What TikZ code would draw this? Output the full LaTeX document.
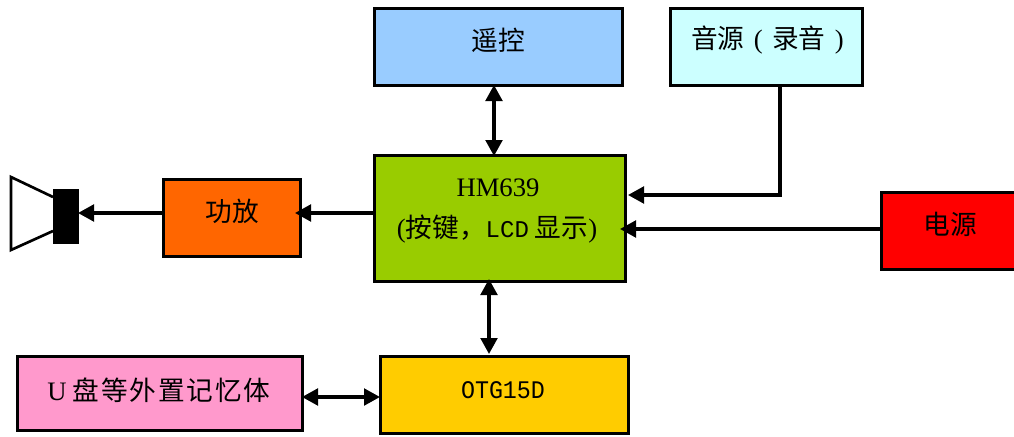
\documentclass[tikz,border=0pt]{standalone}
\usepackage{fontspec}
\setmainfont{Liberation Serif}
\newfontfamily\cjk{Noto Sans CJK SC}
\newfontfamily\cjkwide[LetterSpace=7]{Noto Sans CJK SC}
\newfontfamily\monof{Liberation Mono}
\usetikzlibrary{arrows.meta}
\definecolor{cRemote}{HTML}{99CCFF}
\definecolor{cSource}{HTML}{CCFFFF}
\definecolor{cMain}{HTML}{99CC00}
\definecolor{cAmp}{HTML}{FF6600}
\definecolor{cPower}{HTML}{FF0000}
\definecolor{cUsb}{HTML}{FF99CC}
\definecolor{cOtg}{HTML}{FFCC00}
\tikzset{
  x=0.75pt,y=-0.75pt,
  blockbox/.style={draw=black,line width=2.4pt,inner sep=0pt,anchor=north west},
  txt/.style={inner sep=0pt,font=\fontsize{20pt}{24pt}\selectfont\cjk,text=black},
  conn/.style={line width=2.4pt,draw=black},
  tip/.style={-{Triangle[length=12pt,width=12.5pt]}},
  tips/.style={{Triangle[length=12pt,width=12.5pt]}-{Triangle[length=12pt,width=12.5pt]}}
}
\newcommand{\boxat}[6]{\node[blockbox,fill=#2,minimum width=#5*0.75pt,minimum height=#6*0.75pt] (#1) at (#3,#4) {};}
\begin{document}
\begin{tikzpicture}
\useasboundingbox (0,0) rectangle (1014,436);
\boxat{remote}{cRemote}{372.7}{6.8}{248}{77}
\boxat{source}{cSource}{668.7}{6.8}{192}{77}
\boxat{main}{cMain}{372.7}{153.8}{251}{126}
\boxat{amp}{cAmp}{161.7}{177.8}{137}{77}
\boxat{power}{cPower}{879.7}{190.8}{138}{77}
\boxat{usb}{cUsb}{15.7}{354.8}{285}{74}
\boxat{otg}{cOtg}{378.7}{354.8}{248}{77}
\node[txt] (tremote) at (498,40) {遥控};
\node[txt] (tsource) at (767.5,40) {音源\hspace{7pt}{\rmfamily(}\hspace{7pt}录音\hspace{7pt}{\rmfamily)}};
\node[txt,font=\fontsize{20pt}{24pt}\selectfont] (tmain1) at (498,188) {HM639};
\node[txt] (tmain2) at (497,229) {{\rmfamily(}按键，{\monof\fontsize{18pt}{20pt}\selectfont LCD} 显示{\rmfamily)}};
\node[txt] (tamp) at (232,211) {功放};
\node[txt] (tpower) at (950,224) {电源};
\node[txt] (tusb) at (159,390) {{\rmfamily U} {\cjkwide 盘等外置记忆体}};
\node[txt,font=\fontsize{19pt}{22pt}\selectfont\monof,xscale=0.92] (totg) at (503,390) {OTG15D};
% speaker
\node[fill=black,draw=none,minimum width=26*0.75pt,minimum height=55*0.75pt,inner sep=0pt,anchor=north west] (driver) at (53,189) {};
\coordinate (hornA) at (53,197);
\coordinate (hornB) at (11,177);
\coordinate (hornC) at (11,250);
\coordinate (hornD) at (53,231);
\draw[line width=2pt,line join=miter] (hornA) -- (hornB) -- (hornC) -- (hornD);
% connectors
\coordinate (ampIn) at (295,213);
\coordinate (mainOut) at (374,213);
\coordinate (ampOut) at (163,213);
\coordinate (driverIn) at (78,213);
\draw[conn,tip] (mainOut) -- (ampIn);
\draw[conn,tip] (ampOut) -- (driverIn);
\coordinate (rmTop) at (494,85);
\coordinate (rmBot) at (494,156);
\draw[conn,tips] (rmTop) -- (rmBot);
\coordinate (otgTop) at (489,279);
\coordinate (otgBot) at (489,354);
\draw[conn,tips] (otgTop) -- (otgBot);
\coordinate (usbR) at (302,397);
\coordinate (otgL) at (380,397);
\draw[conn,tips] (usbR) -- (otgL);
\coordinate (srcOut) at (780,85);
\coordinate (srcCorner) at (780,195);
\coordinate (mainSrc) at (628,195);
\draw[conn,tip] (srcOut) -- (srcCorner) -- (mainSrc);
\coordinate (powOut) at (881,229);
\coordinate (mainPow) at (620,229);
\draw[conn,tip] (powOut) -- (mainPow);
\end{tikzpicture}
\end{document}
